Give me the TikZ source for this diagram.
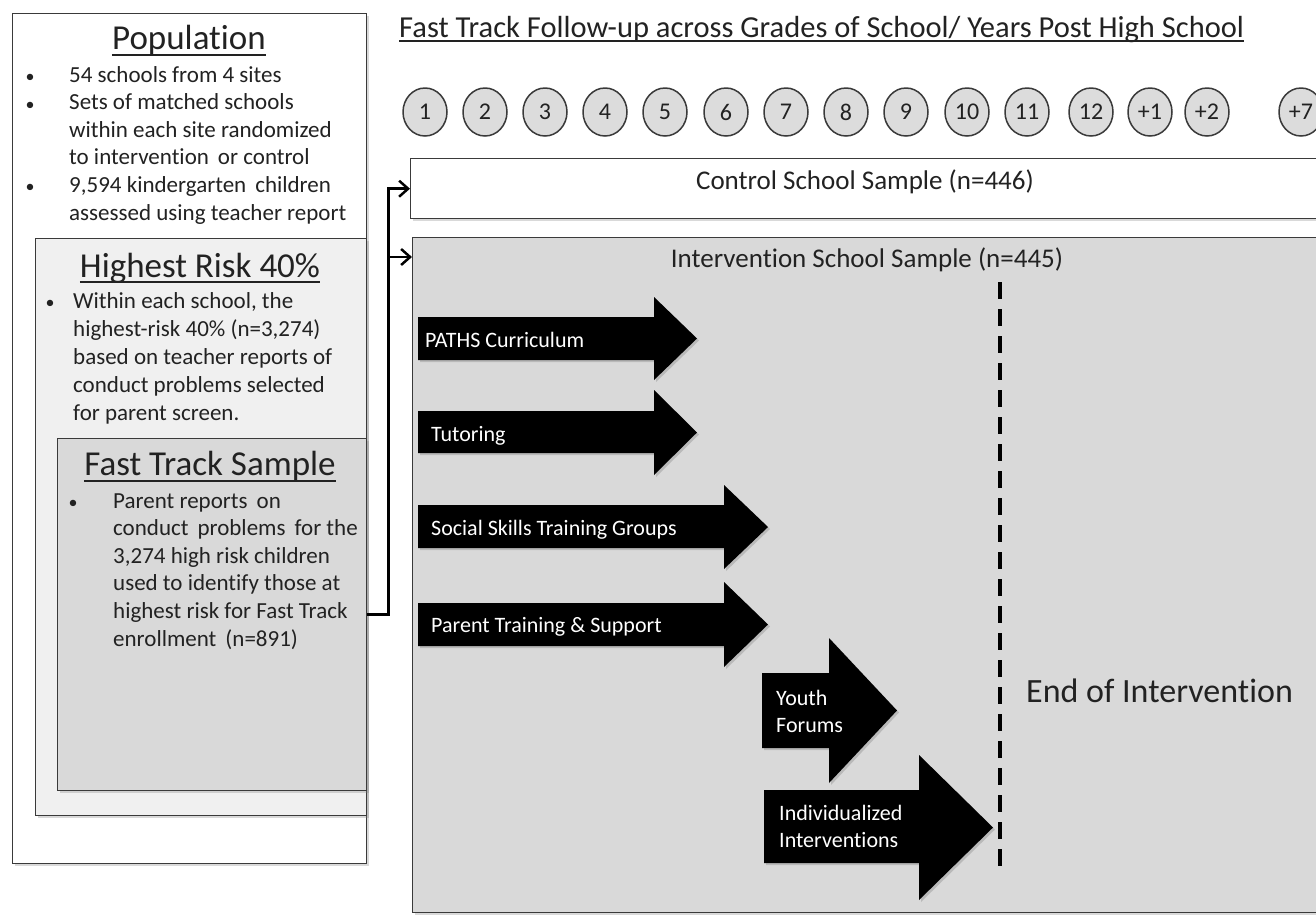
\documentclass[tikz,border=0pt]{standalone}
\usepackage{fontspec}
\setmainfont{Carlito}[Ligatures=NoCommon]
\usetikzlibrary{arrows.meta,shapes.geometric,shadows,calc}
\definecolor{ink}{HTML}{222222}
\definecolor{edge}{HTML}{3A3A3A}
\definecolor{lightbox}{HTML}{F0F0F0}
\definecolor{midbox}{HTML}{D9D9D9}
\definecolor{circfill}{HTML}{DCDCDC}
\newcommand\blockarrow[8]{% name, x1, ytop, ybot, xhead, headtop, headbot, xtip
  \fill[blk] (#2,#3) -- (#5,#3) -- (#5,#6) -- (#8,{(#6+#7)/2}) -- (#5,#7) -- (#5,#4) -- (#2,#4) -- cycle;
  \coordinate (#1) at (#2,{(#3+#4)/2});}
\begin{document}
\begin{tikzpicture}[x=1pt,y=-1pt,
  panel/.style={draw=edge, line width=1.4pt, inner sep=0pt, anchor=north west,
    drop shadow={shadow xshift=2pt, shadow yshift=-2pt, opacity=0.3}},
  ttl/.style={inner sep=0pt, text=ink, font=\fontsize{35}{40}\selectfont},
  uline/.style={line width=2pt, ink},
  body/.style={inner sep=0pt, anchor=base west, text=ink, font=\fontsize{23}{27.6}\selectfont},
  bul/.style={inner sep=0pt, anchor=base, text=ink, font=\fontsize{18}{24}\selectfont},
  grade/.style={ellipse, draw=edge, line width=1.5pt, fill=circfill, minimum width=44pt,
    minimum height=48pt, inner sep=0pt, text=ink, font=\fontsize{24}{28}\selectfont},
  blk/.style={fill=black, drop shadow={shadow xshift=2pt, shadow yshift=-2pt, opacity=0.35}},
  armtext/.style={inner sep=0pt, anchor=base west, text=white, font=\fontsize{22}{27}\selectfont},
  conn/.style={line width=2.5pt, black, -{Straight Barb[length=9pt,width=16pt,line width=2.5pt]}},
  samp/.style={inner sep=0pt, text=ink, font=\fontsize{27}{32}\selectfont}
]
\useasboundingbox (0,0) rectangle (1316,914);
\clip (0,0) rectangle (1316,914);

% ---------- left panels ----------
\node[panel, fill=white, minimum width=354pt, minimum height=850pt] (pop) at (12,13) {};
\node[panel, fill=lightbox, minimum width=331pt, minimum height=577pt] (risk) at (35,238) {};
\node[panel, fill=midbox, minimum width=309pt, minimum height=352pt] (ft) at (57,438) {};

\node[ttl, anchor=base] (popttl) at (189,49) {Population};
\draw[uline] ([yshift=-6pt]popttl.base west) -- ([yshift=-6pt]popttl.base east);
\node[bul] (pb1) at (30,82) {•};
\node[bul] (pb2) at (30,110) {•};
\node[bul] (pb3) at (30,192) {•};
\node[body] (poptext) at (69,82) {\vtop{\hbox{54 schools from 4 sites}\hbox{Sets of matched schools}\hbox{within each site randomized}\hbox{to intervention\, or control}\hbox{9,594 kindergarten\, children}\hbox{assessed using teacher report}}};

\node[ttl, anchor=base] (riskttl) at (200,277) {Highest Risk 40\%};
\draw[uline] ([yshift=-5pt]riskttl.base west) -- ([yshift=-5pt]riskttl.base east);
\node[bul] (rb1) at (50,308) {•};
\node[body] (risktext) at (73,308) {\vtop{\baselineskip=28pt\hbox{Within each school, the}\hbox{highest-risk 40\% (n=3,274)}\hbox{based on teacher reports of}\hbox{conduct problems selected}\hbox{for parent screen.}}};

\node[ttl, anchor=base] (ftttl) at (210,475) {Fast Track Sample};
\draw[uline] ([yshift=-6pt]ftttl.base west) -- ([yshift=-6pt]ftttl.base east);
\node[bul] (fb1) at (73,508) {•};
\node[body] (fttext) at (113,508) {\vtop{\hbox{Parent reports\, on}\hbox{conduct\, problems\, for the}\hbox{3,274 high risk children}\hbox{used to identify those at}\hbox{highest risk for Fast Track}\hbox{enrollment\, (n=891)}}};

% ---------- header ----------
\node[inner sep=0pt, anchor=base west, text=ink, font=\fontsize{30.5}{34}\selectfont] (head) at (399,37)
  {Fast Track Follow-up across Grades of School/ Years Post High School};
\draw[line width=1.6pt, ink] ([yshift=-4pt]head.base west) -- ([yshift=-4pt]head.base east);

\foreach \n/\x/\lab in {c1/425/1, c2/485/2, c3/545/3, c4/605/4, c5/665/5, c6/726/6, c7/786/7,
  c8/846/8, c9/906/9, c10/967/10, c11/1027/11, c12/1091/12, c13/1150/+1, c14/1207/+2, c15/1301/+7}
  \node[grade] (\n) at (\x,112) {\lab};

% ---------- samples ----------
\node[panel, fill=white, minimum width=930pt, minimum height=60pt, drop shadow={opacity=0}] (ctrl) at (410,158) {};
\node[panel, fill=midbox, minimum width=928pt, minimum height=675pt, drop shadow={opacity=0}] (intv) at (412,237) {};
\node[samp] (ctrltxt) at (865,182) {Control School Sample (n=446)};
\node[samp] (intvtxt) at (867,260) {Intervention School Sample (n=445)};

\coordinate (intvin) at ($(intv.north west)+(0,20)$);
\coordinate (bend) at ($(ft.east)+(21,0)$);
\draw[conn] (ft.east) -- (bend) |- (ctrl.west);
\draw[conn] (bend) |- (intvin);

% ---------- intervention components ----------
\blockarrow{a1}{418}{317}{360}{654}{297}{380}{697}
\blockarrow{a2}{418}{411}{453}{654}{390}{475}{697}
\blockarrow{a3}{418}{505}{548}{724}{485}{569}{768}
\blockarrow{a4}{418}{603}{646}{724}{582}{667}{768}
\blockarrow{a5}{762}{673}{748}{829}{638}{783}{897}
\blockarrow{a6}{764}{790}{863}{919}{755}{900}{993}

\node[armtext] (t1) at (425,347) {PATHS Curriculum};
\node[armtext] (t2) at (431,441) {Tutoring};
\node[armtext] (t3) at (431,535) {Social Skills Training Groups};
\node[armtext] (t4) at (431,632) {Parent Training \& Support};
\node[armtext] (t5) at (776,705) {\vtop{\hbox{Youth}\hbox{Forums}}};
\node[armtext] (t6) at (779,820) {\vtop{\hbox{Individualized}\hbox{Interventions}}};

\coordinate (eoitop) at (1000,282);
\coordinate (eoibot) at (1000,873);
\draw[line width=4pt, black, dash pattern=on 17pt off 10pt] (eoitop) -- (eoibot);
\node[inner sep=0pt, anchor=base west, text=ink, font=\fontsize{34}{40}\selectfont] (eoi) at (1026,702) {End of Intervention};
\end{tikzpicture}
\end{document}
